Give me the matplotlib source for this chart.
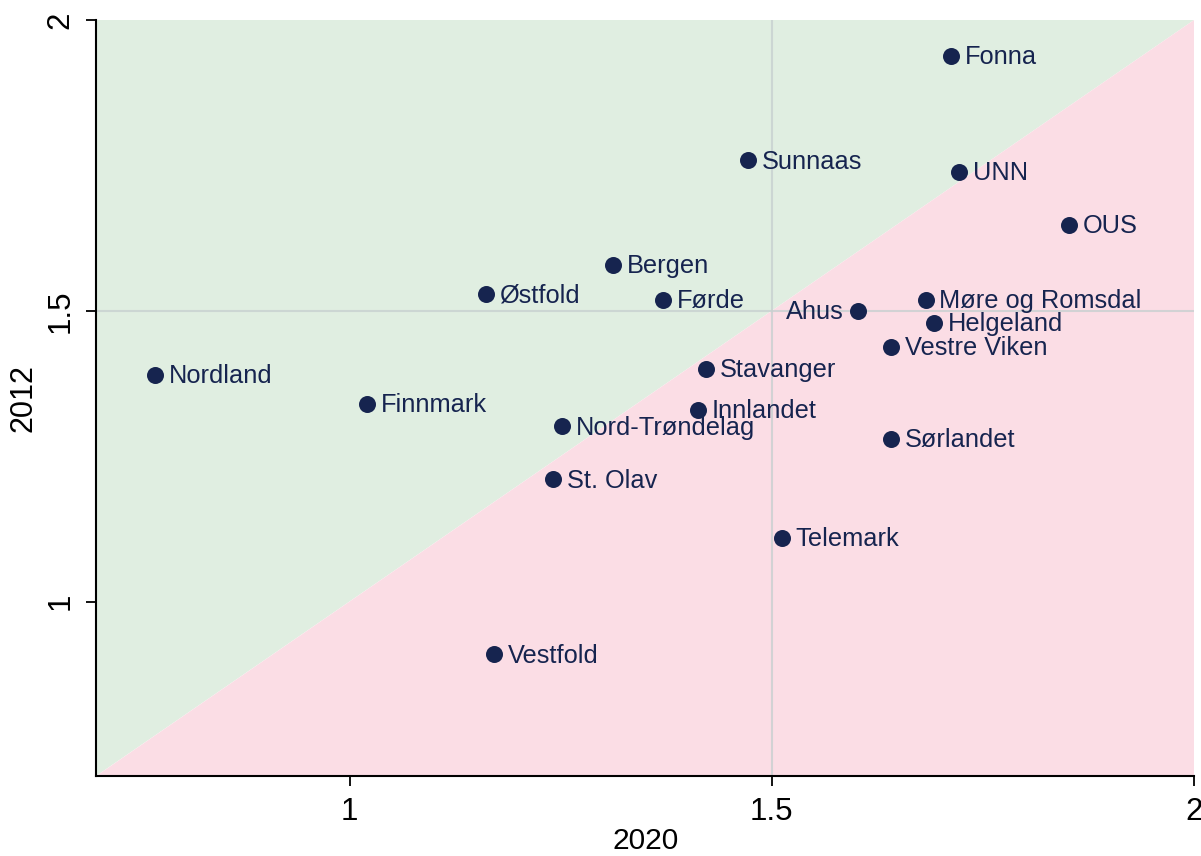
import matplotlib
matplotlib.use("Agg")
import matplotlib.pyplot as plt

plt.rcParams['font.family'] = ['Liberation Sans', 'DejaVu Sans']

names = ["Fonna", "Sunnaas", "UNN", "OUS", "Bergen", "Østfold", "Førde", "Ahus",
         "Møre og Romsdal", "Helgeland", "Vestre Viken", "Nordland", "Stavanger",
         "Finnmark", "Innlandet", "Nord-Trøndelag", "Sørlandet", "St. Olav",
         "Telemark", "Vestfold"]
x2020 = [1.712, 1.472, 1.722, 1.852, 1.312, 1.161, 1.371, 1.602,
         1.682, 1.692, 1.641, 0.770, 1.422,
         1.021, 1.412, 1.251, 1.641, 1.241,
         1.512, 1.171]
y2012 = [1.938, 1.759, 1.739, 1.648, 1.579, 1.529, 1.519, 1.500,
         1.519, 1.479, 1.438, 1.390, 1.400,
         1.340, 1.330, 1.301, 1.280, 1.210,
         1.110, 0.909]
left_labels = ["Ahus"]
ticks = [1, 1.5, 2]
tick_labels = ["1", "1.5", "2"]
lo, hi = 0.7, 2.0

fig = plt.figure(figsize=(12.01, 8.56), dpi=100)
ax = fig.add_axes([0.0802, 0.0935, 0.9140, 0.8831])
ax.set_xlim(lo, hi)
ax.set_ylim(lo, hi)

ax.fill([lo, lo, hi], [lo, hi, hi], color='#e0eee1', lw=0, zorder=0)
ax.fill([lo, hi, hi], [lo, hi, lo], color='#fbdde5', lw=0, zorder=0)
ax.axvline(1.5, color='#c8d0d0', lw=1.5, alpha=0.8, zorder=1)
ax.axhline(1.5, color='#c8d0d0', lw=1.5, alpha=0.8, zorder=1)

ax.scatter(x2020, y2012, s=150, color='#16244f', zorder=3, linewidths=0)
for n, xv, yv in zip(names, x2020, y2012):
    if n in left_labels:
        ax.annotate(n, (xv, yv), xytext=(-10, -1), textcoords='offset points',
                    ha='right', va='center', fontsize=18.3, color='#16244f')
    else:
        ax.annotate(n, (xv, yv), xytext=(10, -1), textcoords='offset points',
                    ha='left', va='center', fontsize=18.3, color='#16244f')

for s in ['top', 'right']:
    ax.spines[s].set_visible(False)
for s in ['left', 'bottom']:
    ax.spines[s].set_linewidth(1.5)
ax.set_xticks(ticks)
ax.set_xticklabels(tick_labels)
ax.set_yticks(ticks)
ax.set_yticklabels(tick_labels, rotation=90, va='center')
ax.tick_params(axis='both', length=7, width=1.3, labelsize=22.5, pad=8)
ax.set_xlabel("2020", fontsize=21.5, labelpad=0)
ax.set_ylabel("2012", fontsize=22, labelpad=5)

fig.savefig("out.png", dpi=100)
